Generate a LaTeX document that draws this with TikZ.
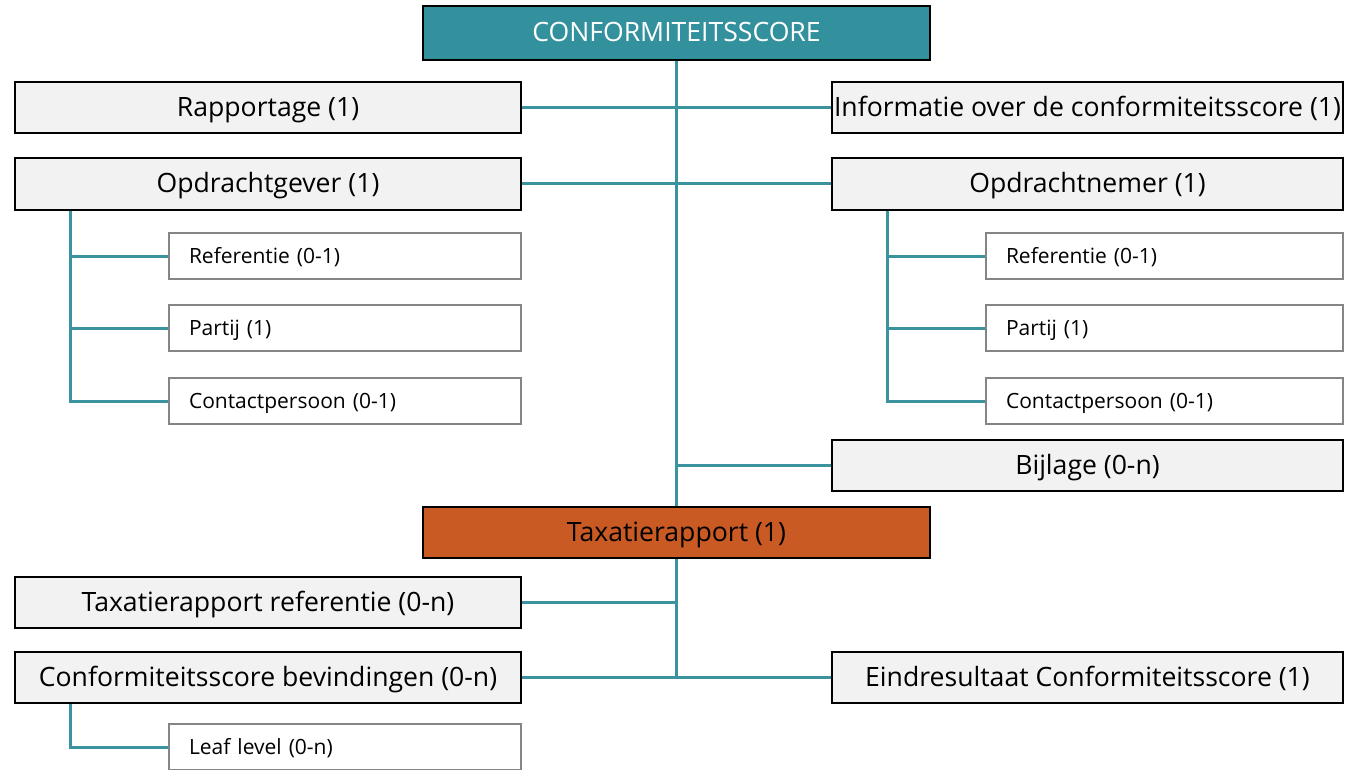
\documentclass[tikz,border=0pt]{standalone}
\usepackage{fontspec}
\setmainfont{Open Sans}
\usetikzlibrary{calc}
\definecolor{teal}{HTML}{33909D}
\definecolor{link}{HTML}{3A939F}
\definecolor{orng}{HTML}{C95A24}
\definecolor{boxgray}{HTML}{F2F2F2}
\definecolor{subedge}{HTML}{858585}
\tikzset{
  mainbox/.style={draw=black, line width=2pt, fill=boxgray, minimum height=51pt, inner sep=0pt, text height=19pt, text depth=2pt, font=\fontsize{26.6}{30}\selectfont, text=black},
  leftbox/.style={mainbox, minimum width=506pt},
  rightbox/.style={mainbox, minimum width=511pt},
  headbox/.style={mainbox, minimum width=507pt, minimum height=54pt},
  subbox/.style={draw=subedge, line width=2.5pt, fill=white, minimum height=46pt, inner xsep=20pt, inner ysep=0pt, text height=16pt, text depth=2pt, text width=312pt, align=left, font=\fontsize{21}{25}\selectfont},
  rightsub/.style={subbox, text width=317pt},
  conn/.style={draw=link, line width=3pt}
}
\begin{document}
\begin{tikzpicture}[x=1pt,y=-1pt]
\useasboundingbox (0,0) rectangle (1351,770);
% head boxes
\node[headbox, fill=teal, text=white] (top) at (676.5,33) {CONFORMITEITSSCORE};
\node[headbox, minimum height=51pt, fill=orng] (tax) at (676.5,532.5) {Taxatierapport (1)};
% left column
\node[leftbox] (rap) at (268,108) {Rapportage (1)};
\node[leftbox] (og) at (268,184) {Opdrachtgever (1)};
\node[subbox] (ogref) at (345,256) {Referentie (0-1)};
\node[subbox] (ogpar) at (345,328) {Partij (1)};
\node[subbox] (ogcon) at (345,401) {Contactpersoon (0-1)};
\node[leftbox] (trr) at (268,602.5) {Taxatierapport referentie (0-n)};
\node[leftbox] (cb) at (268,677.5) {Conformiteitsscore bevindingen (0-n)};
\node[subbox] (leaf) at (345,747) {Leaf level (0-n)};
% right column
\node[rightbox] (info) at (1087.5,108) {Informatie over de conformiteitsscore (1)};
\node[rightbox] (on) at (1087.5,184) {Opdrachtnemer (1)};
\node[rightsub] (onref) at (1164.5,256) {Referentie (0-1)};
\node[rightsub] (onpar) at (1164.5,328) {Partij (1)};
\node[rightsub] (oncon) at (1164.5,401) {Contactpersoon (0-1)};
\node[rightbox] (bij) at (1087.5,465.5) {Bijlage (0-n)};
\node[rightbox] (eind) at (1087.5,677.5) {Eindresultaat Conformiteitsscore (1)};
% branch points
\coordinate (ogv) at ($(og.south west)+(56,0)$);
\coordinate (onv) at ($(on.south west)+(56,0)$);
\coordinate (cbv) at ($(cb.south west)+(56,0)$);
% connectors
\path[conn] (top.south) -- (tax.north);
\path[conn] (rap.east) -- (info.west);
\path[conn] (og.east) -- (on.west);
\path[conn] (bij.west) -- (bij.west -| top.south);
\path[conn] (ogv) |- (ogref.west);
\path[conn] (ogv) |- (ogpar.west);
\path[conn] (ogv) |- (ogcon.west);
\path[conn] (onv) |- (onref.west);
\path[conn] (onv) |- (onpar.west);
\path[conn] (onv) |- (oncon.west);
\path[conn] (tax.south) -- (tax.south |- eind.west);
\path[conn] (trr.east) -- (trr.east -| tax.south);
\path[conn] (cb.east) -- (eind.west);
\path[conn] (cbv) |- (leaf.west);
\end{tikzpicture}
\end{document}
